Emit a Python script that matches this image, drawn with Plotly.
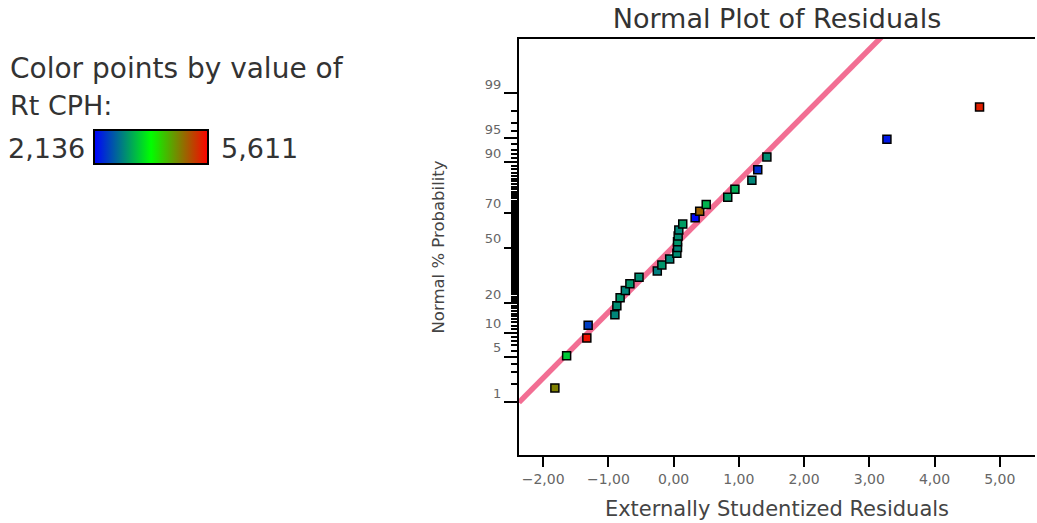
import plotly.graph_objects as go
from statistics import NormalDist

# Externally studentized residuals of each run, in ascending order
residuals = [-1.82, -1.64, -1.33, -1.31, -0.90, -0.87, -0.82, -0.74, -0.67, -0.53,
             -0.25, -0.18, -0.06, 0.05, 0.06, 0.06, 0.07, 0.08, 0.14, 0.33,
             0.40, 0.50, 0.83, 0.94, 1.20, 1.29, 1.43, 3.27, 4.69]
# Normal % probability assigned to each ordered residual
probability = [1.72, 5.17, 8.62, 12.07, 15.52, 18.97, 22.41, 25.86, 29.31, 32.76,
               36.21, 39.66, 43.10, 46.55, 50.00, 53.45, 56.90, 60.34, 63.79, 67.24,
               70.69, 74.14, 77.59, 81.03, 84.48, 87.93, 91.38, 94.83, 98.28]
# Rt CPH response of each run, used for the point colour
rt_cph = [4.74, 3.50, 5.50, 2.55, 3.05, 3.10, 3.15, 3.05, 3.15, 3.10,
          3.00, 3.15, 3.05, 3.10, 3.05, 3.15, 3.10, 3.05, 3.20, 2.20,
          4.95, 3.35, 3.20, 3.30, 3.05, 2.45, 3.10, 2.30, 5.40]
rt_min, rt_max = 2.136, 5.611

# Reference line of the normal plot
fit_slope, fit_intercept = 0.99, 0.015

# Axis ticks
x_ticks = [-2, -1, 0, 1, 2, 3, 4, 5]
x_ticktext = ["\u22122,00", "\u22121,00", "0,00", "1,00", "2,00", "3,00", "4,00", "5,00"]
prob_major = [1, 5, 10, 20, 50, 70, 90, 95, 99]
prob_minor = list(range(1, 100))

nd = NormalDist()
z = lambda p: nd.inv_cdf(p / 100.0)

x_range = [-2.37, 5.54]
y_range = [-3.125, 3.14]

FONT = "DejaVu Sans"

# plot area in pixels: x 519..1035, y 39..455
def px(xp):
    return (xp - 519) / 516.0

def py(yp):
    return (455 - yp) / 416.0

fig = go.Figure()

fig.add_trace(go.Scatter(
    x=x_range,
    y=[fit_slope * v + fit_intercept for v in x_range],
    mode="lines",
    line=dict(color="rgba(240,85,128,0.85)", width=5.5),
    hoverinfo="skip",
    showlegend=False,
))

fig.add_trace(go.Scatter(
    x=residuals,
    y=[z(p) for p in probability],
    mode="markers",
    marker=dict(
        symbol="square",
        size=8,
        color=rt_cph,
        cmin=rt_min,
        cmax=rt_max,
        colorscale=[[0, "#0000ff"], [0.5, "#00ff00"], [1, "#ff0000"]],
        line=dict(color="black", width=1.5),
        colorbar=dict(
            orientation="h",
            xref="paper", yref="paper",
            x=px(94), xanchor="left",
            y=py(148), yanchor="middle",
            len=114, lenmode="pixels",
            thickness=34,
            xpad=0, ypad=0,
            outlinecolor="black", outlinewidth=2,
            showticklabels=False, ticks="",
        ),
    ),
    showlegend=False,
))

side_font = dict(family=FONT, size=27, color="#333333")
annotations = [
    dict(text="Color points by value of", x=px(8), y=py(69),
         font=dict(family=FONT, size=28, color="#333333")),
    dict(text="Rt CPH:", x=px(8), y=py(105), font=side_font),
    dict(text="2,136", x=px(6), y=py(148), font=side_font),
    dict(text="5,611", x=px(219), y=py(148), font=side_font),
]
for a in annotations:
    a.update(xref="paper", yref="paper", xanchor="left", yanchor="middle",
             showarrow=False)

fig.update_layout(
    width=1037, height=523,
    margin=dict(l=519, r=2, t=39, b=68, autoexpand=False),
    paper_bgcolor="white",
    plot_bgcolor="white",
    title=dict(
        text="Normal Plot of Residuals",
        x=0.5, xref="paper", xanchor="center",
        y=1 - 19 / 523, yref="container", yanchor="middle",
        font=dict(family=FONT, size=27, color="#333333"),
    ),
    annotations=annotations,
    xaxis=dict(
        range=x_range,
        tickmode="array", tickvals=x_ticks, ticktext=x_ticktext,
        ticks="outside", ticklen=10, tickwidth=2, tickcolor="black",
        tickfont=dict(family=FONT, size=14, color="#666666"),
        showline=True, linecolor="black", linewidth=2, mirror=True,
        showgrid=False, zeroline=False,
        title=dict(text="Externally Studentized Residuals", standoff=16,
                   font=dict(family=FONT, size=21, color="#444444")),
    ),
    yaxis=dict(
        range=y_range,
        tickmode="array", tickvals=[z(p) for p in prob_major],
        ticktext=[str(p) for p in prob_major],
        ticks="outside", ticklen=13, tickwidth=2, tickcolor="black",
        ticklabelshift=-9,
        minor=dict(tickmode="array", tickvals=[z(p) for p in prob_minor],
                   ticks="outside", ticklen=6, tickwidth=1.5, tickcolor="black",
                   showgrid=False),
        tickfont=dict(family=FONT, size=13, color="#666666"),
        showline=True, linecolor="black", linewidth=2, mirror=False,
        showgrid=False, zeroline=False,
        title=dict(text="Normal % Probability", standoff=36,
                   font=dict(family=FONT, size=16.5, color="#444444")),
    ),
)

fig.write_html("out.html")
